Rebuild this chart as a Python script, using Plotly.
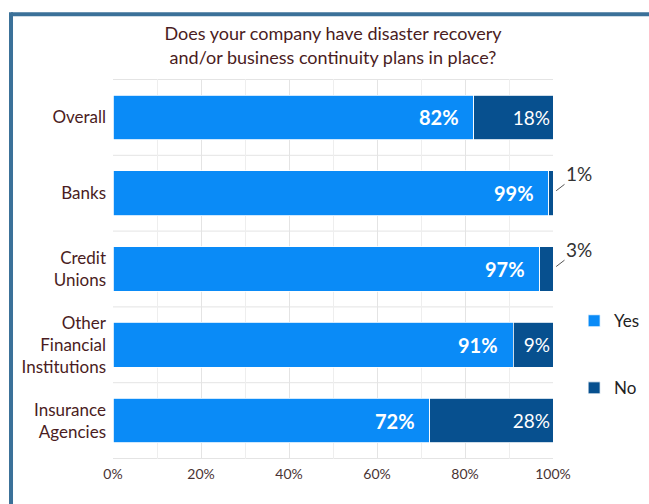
import plotly.graph_objects as go

categories = ["Overall", "Banks", "Credit<br>Unions", "Other<br>Financial<br>Institutions", "Insurance<br>Agencies"]
yes_pct = [82, 99, 97, 91, 72]
no_pct = [18, 1, 3, 9, 28]
x_ticks = [0, 20, 40, 60, 80, 100]
x_tick_labels = ["0%", "20%", "40%", "60%", "80%", "100%"]

YES_COLOR = "#0a8bf7"
NO_COLOR = "#07508f"
TEXT_DARK = "#4a1c22"
FONT = "Lato"

fig = go.Figure()

fig.add_trace(go.Bar(
    name="Yes", y=categories, x=yes_pct, orientation="h",
    marker=dict(color=YES_COLOR, line=dict(color="#ffffff", width=0.8)),
    legendgroup="yes", hoverinfo="skip",
))

# Small "No" shares get their label outside the bar with a leader line
no_text = [f"{v}%" if v >= 5 else "" for v in no_pct]
fig.add_trace(go.Bar(
    name="No", y=categories, x=no_pct, orientation="h",
    marker=dict(color=NO_COLOR, line=dict(color="#ffffff", width=0.8)),
    text=no_text, textposition="inside", insidetextanchor="end",
    textfont=dict(family=FONT, size=19, color="white"),
    legendgroup="no", hoverinfo="skip",
))

# "Yes" labels sit inside the bar, inset from its end
for cat, y_val in zip(categories, yes_pct):
    fig.add_annotation(
        x=y_val, y=cat, text=f"<b>{y_val}%</b>", showarrow=False,
        xanchor="right", xshift=-13,
        font=dict(family=FONT, size=20, color="white"),
    )

for cat, y_val, n_val in zip(categories, yes_pct, no_pct):
    if n_val < 5:
        fig.add_annotation(
            x=y_val + n_val, y=cat, text=f"{n_val}%",
            showarrow=True, arrowhead=0, arrowwidth=1, arrowcolor="#555555",
            ax=26, ay=-20, standoff=4,
            font=dict(family=FONT, size=19, color="#333333"),
        )

# Horizontal separators between category bands
for i in range(len(categories) + 1):
    fig.add_shape(type="line", xref="x", yref="y", x0=0, x1=100,
                  y0=i - 0.5, y1=i - 0.5, line=dict(color="#e4e4e4", width=1), layer="below")

# Outer frame (left and top edges)
fig.add_shape(type="line", xref="paper", yref="paper", x0=-0.2318, x1=1.23, y0=1.1705, y1=1.1705,
              line=dict(color="#3b7199", width=4))
fig.add_shape(type="line", xref="paper", yref="paper", x0=-0.2318, x1=-0.2318, y0=-0.2, y1=1.1755,
              line=dict(color="#3b7199", width=4))

fig.update_layout(
    width=649, height=504,
    margin=dict(l=113, r=96, t=79, b=45, autoexpand=False),
    paper_bgcolor="white", plot_bgcolor="white",
    barmode="stack", bargap=0.41,
    font=dict(family=FONT, color=TEXT_DARK),
    title=dict(
        text="Does your company have disaster recovery<br>and/or business continuity plans in place?",
        x=0.5, xref="paper", xanchor="center",
        y=0.92, yref="container", yanchor="top",
        font=dict(family=FONT, size=18, color=TEXT_DARK),
    ),
    xaxis=dict(
        range=[0, 100], tickvals=x_ticks, ticktext=x_tick_labels,
        showgrid=True, gridcolor="#e4e4e4", gridwidth=1,
        minor=dict(dtick=10, showgrid=True, gridcolor="#eeeeee"),
        zeroline=False, showline=False,
        tickfont=dict(family=FONT, size=14, color="#4a3434"),
        ticks="", ticklabelstandoff=5, fixedrange=True,
    ),
    yaxis=dict(
        autorange="reversed", showgrid=False, zeroline=False,
        tickfont=dict(family=FONT, size=17, color=TEXT_DARK),
        ticks="", ticklabelstandoff=6,
    ),
    legend=dict(
        x=1.048, xanchor="left", y=0.41, yanchor="top",
        traceorder="grouped", tracegroupgap=42,
        font=dict(family=FONT, size=17, color="#222222"),
        itemwidth=30,
    ),
    showlegend=True,
)

fig.write_html("out.html", config={"displayModeBar": False})
